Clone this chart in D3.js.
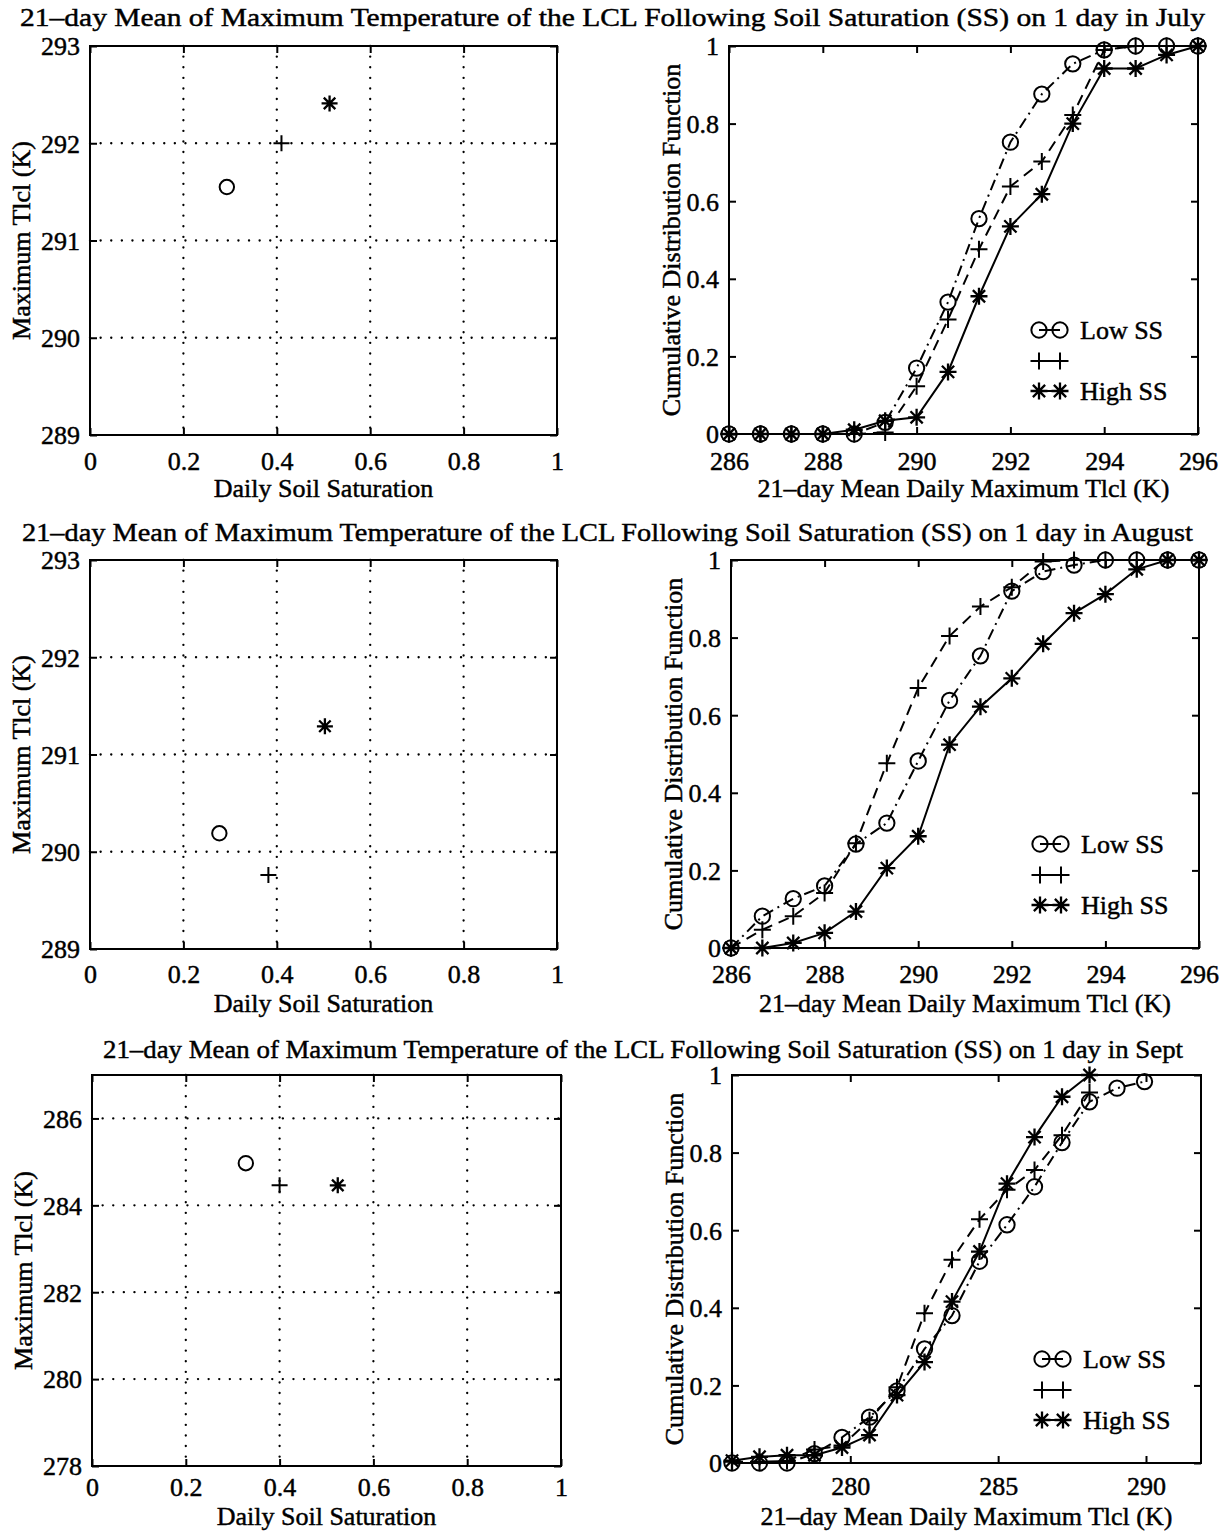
<!DOCTYPE html>
<html>
<head>
<meta charset="utf-8">
<script src="https://cdn.jsdelivr.net/npm/d3@7"></script>
<style>
  body { margin: 0; background: #fff; }
  text { font-family: "Liberation Serif", "Times New Roman", Times, serif; fill: #000; stroke: #000; stroke-width: 0.45px; }
</style>
</head>
<body>
<svg id="fig" width="1225" height="1534"></svg>
<script>
// ---- Scatter panels: mean maximum LCL temperature vs. daily soil saturation ----
// order of points: Low SS (circle), middle (plus), High SS (star)
const soilSatJul = [0.293, 0.41, 0.513];
const tlclJul    = [291.55, 292.0, 292.41];
const soilSatAug = [0.277, 0.382, 0.503];
const tlclAug    = [290.19, 289.76, 291.29];
const soilSatSep = [0.328, 0.40, 0.524];
const tlclSep    = [284.97, 284.46, 284.46];

// ---- CDF panels: 21-day mean daily maximum Tlcl ----
const binsJul = [286, 286.67, 287.33, 288, 288.67, 289.33, 290, 290.67, 291.33, 292, 292.67, 293.33, 294, 294.67, 295.33, 296];
const cdfLowJul  = [0, 0, 0, 0, 0, 0.03, 0.17, 0.34, 0.555, 0.752, 0.876, 0.954, 0.99, 1, 1, 1];
const cdfMidJul  = [0, 0, 0, 0, 0, 0.004, 0.123, 0.295, 0.476, 0.638, 0.702, 0.822, 0.99, 1, 1, 1];
const cdfHighJul = [0, 0, 0, 0, 0.011, 0.034, 0.043, 0.16, 0.355, 0.535, 0.618, 0.80, 0.942, 0.942, 0.977, 1];

const binsAug = [286, 286.67, 287.33, 288, 288.67, 289.33, 290, 290.67, 291.33, 292, 292.67, 293.33, 294, 294.67, 295.33, 296];
const cdfLowAug  = [0, 0.082, 0.127, 0.16, 0.268, 0.322, 0.482, 0.638, 0.753, 0.92, 0.97, 0.987, 1, 1, 1, 1];
const cdfMidAug  = [0, 0.047, 0.082, 0.142, 0.27, 0.476, 0.67, 0.804, 0.88, 0.93, 0.996, 1, 1, 1, 1, 1];
const cdfHighAug = [0, 0, 0.013, 0.039, 0.094, 0.206, 0.288, 0.524, 0.622, 0.695, 0.784, 0.863, 0.912, 0.976, 1, 1];

const binsSep = [276, 276.93, 277.86, 278.79, 279.72, 280.65, 281.58, 282.51, 283.44, 284.37, 285.3, 286.23, 287.16, 288.09, 289.02, 289.95];
const cdfLowSep  = [0, 0, 0, 0.024, 0.066, 0.118, 0.186, 0.294, 0.38, 0.52, 0.614, 0.712, 0.826, 0.931, 0.966, 0.983];
const cdfMidSep  = [0.003, 0.003, 0.005, 0.035, 0.045, 0.11, 0.195, 0.386, 0.524, 0.628, 0.704, 0.755, 0.845, 0.955];
const cdfHighSep = [0.006, 0.016, 0.02, 0.02, 0.04, 0.072, 0.175, 0.26, 0.416, 0.545, 0.72, 0.84, 0.944, 1.0];

// ---- Tick values and labels ----
const satTicks     = [0, 0.2, 0.4, 0.6, 0.8, 1];
const tlclTicksJA  = [289, 290, 291, 292, 293];
const tlclTicksSep = [278, 280, 282, 284, 286];
const cdfTicks     = [0, 0.2, 0.4, 0.6, 0.8, 1];
const tempTicksJA  = [286, 288, 290, 292, 294, 296];
const tempTicksSep = [280, 285, 290];
const months       = ["July", "August", "Sept"];
const legendLabels = ["Low SS", "", "High SS"];

const titleText = m => `21\u2013day Mean of Maximum Temperature of the LCL Following Soil Saturation (SS) on 1 day in ${m}`;

const svg = d3.select("#fig");
const FS = 26;
const LW = 2;

const fmt = d => String(d);

// Marker painters: circle, plus, asterisk
function drawMarker(g, kind, cx, cy, s) {
  if (kind === 0) {
    g.append("circle").attr("cx", cx).attr("cy", cy).attr("r", s * 0.9)
      .attr("fill", "none").attr("stroke", "#000").attr("stroke-width", LW);
  } else if (kind === 1) {
    const p = d3.path();
    p.moveTo(cx - s, cy); p.lineTo(cx + s, cy);
    p.moveTo(cx, cy - s); p.lineTo(cx, cy + s);
    g.append("path").attr("d", p.toString()).attr("stroke", "#000").attr("stroke-width", LW).attr("fill", "none");
  } else {
    const p = d3.path();
    const d = s * 0.72;
    p.moveTo(cx - s, cy); p.lineTo(cx + s, cy);
    p.moveTo(cx, cy - s); p.lineTo(cx, cy + s);
    p.moveTo(cx - d, cy - d); p.lineTo(cx + d, cy + d);
    p.moveTo(cx - d, cy + d); p.lineTo(cx + d, cy - d);
    g.append("path").attr("d", p.toString()).attr("stroke", "#000").attr("stroke-width", LW + 0.3).attr("fill", "none");
  }
}

// Box with inward ticks on all four sides, tick labels on left & bottom
function frame(g, x, y, xTicks, yTicks, xFmt, yFmt, padX) {
  const [x0, x1] = x.range();
  const [y0, y1] = y.range(); // y0 bottom, y1 top
  const tick = 7;

  const bottom = g.append("g").attr("transform", `translate(0,${y0})`)
    .call(d3.axisBottom(x).tickValues(xTicks).tickSizeInner(-tick).tickSizeOuter(0).tickPadding(padX).tickFormat(xFmt));
  const top = g.append("g").attr("transform", `translate(0,${y1})`)
    .call(d3.axisTop(x).tickValues(xTicks).tickSizeInner(-tick).tickSizeOuter(0).tickFormat(""));
  const left = g.append("g").attr("transform", `translate(${x0},0)`)
    .call(d3.axisLeft(y).tickValues(yTicks).tickSizeInner(-tick).tickSizeOuter(0).tickPadding(10).tickFormat(yFmt));
  const right = g.append("g").attr("transform", `translate(${x1},0)`)
    .call(d3.axisRight(y).tickValues(yTicks).tickSizeInner(-tick).tickSizeOuter(0).tickFormat(""));

  [bottom, top, left, right].forEach(a => {
    a.select(".domain").remove();
    a.selectAll(".tick line").attr("stroke", "#000").attr("stroke-width", LW);
    a.selectAll("text").attr("font-size", FS).attr("font-family", null);
  });
  bottom.selectAll(".tick text").attr("dy", "0.71em");
  left.selectAll(".tick text").attr("dy", "0.34em");

  g.append("rect").attr("x", x0).attr("y", y1).attr("width", x1 - x0).attr("height", y0 - y1)
    .attr("fill", "none").attr("stroke", "#000").attr("stroke-width", LW);
}

function scatterPanel(box, xs, ys, yDomain, yTicks) {
  const g = svg.append("g");
  const x = d3.scaleLinear().domain([0, 1]).range([box.x0, box.x1]);
  const y = d3.scaleLinear().domain(yDomain).range([box.y0, box.y1]);

  // dotted grid
  const grid = g.append("g");
  satTicks.slice(1, -1).forEach(v => {
    grid.append("line").attr("x1", x(v)).attr("x2", x(v)).attr("y1", box.y1).attr("y2", box.y0);
  });
  yTicks.filter(v => v > yDomain[0] && v < yDomain[1]).forEach(v => {
    grid.append("line").attr("x1", box.x0).attr("x2", box.x1).attr("y1", y(v)).attr("y2", y(v));
  });
  grid.selectAll("line").attr("stroke", "#000").attr("stroke-width", 2.3)
    .attr("stroke-dasharray", "0.1,10.5").attr("stroke-linecap", "round");

  frame(g, x, y, satTicks, yTicks, fmt, d3.format("d"), box.pad);

  xs.forEach((v, i) => drawMarker(g, i, x(v), y(ys[i]), 8));

  g.append("text").attr("x", (box.x0 + box.x1) / 2).attr("y", box.y0 + box.lab)
    .attr("text-anchor", "middle").attr("font-size", FS).text("Daily Soil Saturation");
  g.append("text").attr("transform", `translate(${box.x0 - 60},${(box.y0 + box.y1) / 2}) rotate(-90)`)
    .attr("text-anchor", "middle").attr("font-size", FS).text("Maximum Tlcl (K)");
}

function cdfPanel(box, bins, series, xDomain, xTicks) {
  const g = svg.append("g");
  const x = d3.scaleLinear().domain(xDomain).range([box.x0, box.x1]);
  const y = d3.scaleLinear().domain([0, 1]).range([box.y0, box.y1]);

  frame(g, x, y, xTicks, cdfTicks, d3.format("d"), fmt, box.pad);

  const dashes = ["11,5,2,5", "11,7", null];
  const line = d3.line().x(d => x(d[0])).y(d => y(d[1]));
  series.forEach((vals, i) => {
    const pts = vals.map((v, k) => [bins[k], v]);
    g.append("path").attr("d", line(pts)).attr("fill", "none").attr("stroke", "#000")
      .attr("stroke-width", LW).attr("stroke-dasharray", dashes[i]);
    pts.forEach(p => drawMarker(g, i, x(p[0]), y(p[1]), 8.5));
  });

  // legend: short line with a marker at each end
  const rowsY = [box.y0 - 104, box.y0 - 73, box.y0 - 43];
  const lx0 = box.x1 - 159, lx1 = box.x1 - 138;
  legendLabels.forEach((lab, i) => {
    g.append("line").attr("x1", lx0).attr("x2", lx1).attr("y1", rowsY[i]).attr("y2", rowsY[i])
      .attr("stroke", "#000").attr("stroke-width", LW);
    drawMarker(g, i, lx0, rowsY[i], 8.5);
    drawMarker(g, i, lx1, rowsY[i], 8.5);
    if (lab) g.append("text").attr("x", box.x1 - 118).attr("y", rowsY[i] + 9)
      .attr("font-size", FS).text(lab);
  });

  g.append("text").attr("x", (box.x0 + box.x1) / 2).attr("y", box.y0 + box.lab)
    .attr("text-anchor", "middle").attr("font-size", FS).text("21\u2013day Mean Daily Maximum Tlcl (K)");
  g.append("text").attr("transform", `translate(${box.x0 - 49},${(box.y0 + box.y1) / 2}) rotate(-90)`)
    .attr("text-anchor", "middle").attr("font-size", FS).text("Cumulative Distribution Function");
}

// ---- layout ----
const leftBoxes  = [
  {x0: 90, x1: 557, y1: 46, y0: 435, pad: 17, lab: 62},
  {x0: 90, x1: 557, y1: 560, y0: 949, pad: 16, lab: 63},
  {x0: 92, x1: 561, y1: 1075, y0: 1466, pad: 12, lab: 59}
];
const rightBoxes = [
  {x0: 729, x1: 1198, y1: 46, y0: 434, pad: 18, lab: 63},
  {x0: 731, x1: 1199, y1: 560, y0: 948, pad: 17, lab: 64},
  {x0: 732, x1: 1201, y1: 1075, y0: 1463, pad: 14, lab: 62}
];
const titleY  = [26, 541, 1058];
const titleX0 = [20, 22, 103];
const titleX1 = [1205, 1193, 1183];

months.forEach((m, i) => {
  svg.append("text").attr("x", titleX0[i]).attr("y", titleY[i])
    .attr("font-size", FS)
    .attr("textLength", titleX1[i] - titleX0[i]).attr("lengthAdjust", "spacingAndGlyphs")
    .text(titleText(m));
});

scatterPanel(leftBoxes[0], soilSatJul, tlclJul, [289, 293], tlclTicksJA);
scatterPanel(leftBoxes[1], soilSatAug, tlclAug, [289, 293], tlclTicksJA);
scatterPanel(leftBoxes[2], soilSatSep, tlclSep, [278, 287], tlclTicksSep);

cdfPanel(rightBoxes[0], binsJul, [cdfLowJul, cdfMidJul, cdfHighJul], [286, 296], tempTicksJA);
cdfPanel(rightBoxes[1], binsAug, [cdfLowAug, cdfMidAug, cdfHighAug], [286, 296], tempTicksJA);
cdfPanel(rightBoxes[2], binsSep, [cdfLowSep, cdfMidSep, cdfHighSep], [276, 291.86], tempTicksSep);
</script>
</body>
</html>
